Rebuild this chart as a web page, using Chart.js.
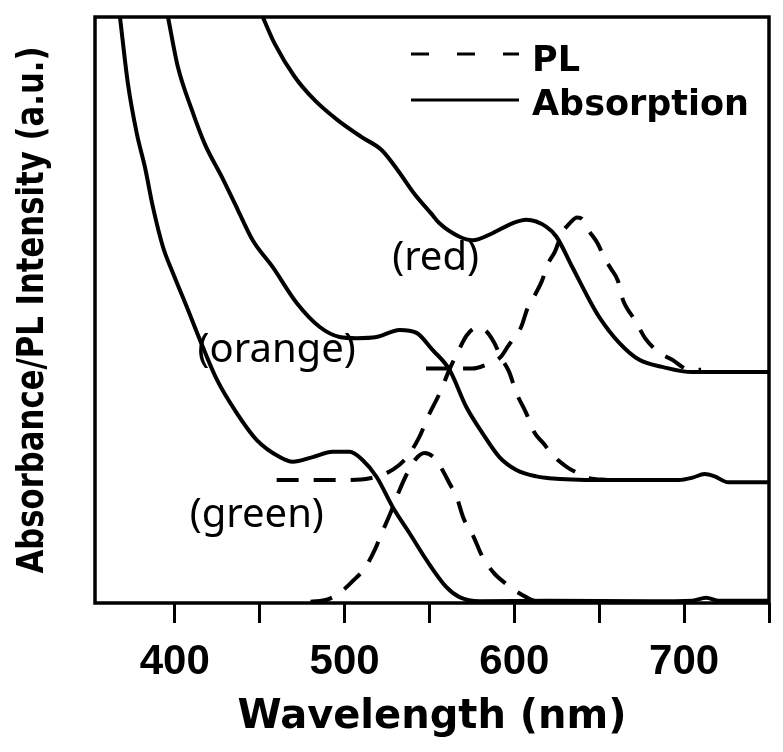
<!DOCTYPE html>
<html>
<head>
<meta charset="utf-8">
<script src="https://cdn.jsdelivr.net/npm/chart.js@4"></script>
<style>
  html, body { margin: 0; padding: 0; background: #fff; }
</style>
</head>
<body>
<canvas id="specChart" width="783" height="752"></canvas>
<script>
// wavelength (nm) / value pairs, y in arbitrary units (0-100)
const greenAbsNm  = [367.7, 372.4, 377.7, 382.4, 387.1, 393, 398.9, 407.1, 414.8, 424.8, 436.5, 448.3, 461.8, 469.5, 481.2, 493, 503, 510.6, 518.9, 528.3, 538.3, 548.3, 560, 567.7, 579.5, 620, 680, 705, 713, 720, 750];
const greenAbsVal = [100, 88.6, 80.0, 74.4, 67.6, 60.8, 56.3, 50.5, 44.9, 38.1, 32.4, 27.8, 24.9, 24.1, 24.9, 25.8, 25.8, 24.4, 21.5, 16.4, 11.9, 7.3, 2.7, 1.0, 0.3, 0.4, 0.3, 0.4, 0.9, 0.4, 0.4];

const orangeAbsNm  = [396, 401.8, 410.1, 417.7, 427.7, 437.1, 445.9, 457.7, 471.8, 485.4, 497.1, 507.1, 518.9, 532.4, 542.4, 551.8, 561.8, 571.8, 581.2, 591.2, 601.2, 613, 620.6, 650, 697, 705, 712, 718, 726, 750];
const orangeAbsVal = [100, 91.5, 84.1, 78.3, 72.7, 67.1, 61.9, 57.3, 51.2, 47.1, 45.4, 45.2, 45.4, 46.6, 46.1, 43.2, 39.8, 33.4, 29.0, 24.9, 22.7, 21.6, 21.3, 21.0, 21.0, 21.4, 22.0, 21.6, 20.6, 20.6];

const redAbsNm  = [451.8, 458.9, 470.6, 482.4, 495.9, 510.1, 521.8, 531.2, 541.2, 551.2, 555.9, 567.7, 575.4, 587.1, 598.9, 607.1, 618.9, 624.8, 634.2, 644.2, 650, 661.8, 673.6, 687.1, 704.8, 750];
const redAbsVal = [100, 95.4, 89.8, 85.8, 82.4, 79.5, 77.3, 73.9, 69.8, 66.4, 64.8, 62.5, 61.9, 63.1, 64.8, 65.4, 64.2, 62.5, 57.3, 51.7, 48.8, 44.4, 41.5, 40.3, 39.4, 39.4];

const greenPlNm  = [480, 490, 497, 505, 512, 518, 522, 527, 532, 537, 542, 547, 552, 557, 562, 566, 570, 576, 581, 588, 595, 601, 607, 613, 625];
const greenPlVal = [0.2, 0.6, 1.7, 3.8, 6.0, 9.2, 12.0, 15.3, 19.0, 22.2, 24.6, 25.6, 25.0, 23.0, 20.3, 18.1, 14.5, 11.3, 8.0, 5.1, 3.3, 2.0, 1.0, 0.3, 0.2];

const orangePlNm  = [460, 480, 500, 515, 525, 532, 537, 544, 549, 556, 562, 567, 572, 578, 583, 588, 592, 597, 601, 607, 612, 617, 621, 626, 631, 637, 644, 655];
const orangePlVal = [21.0, 21.0, 21.0, 21.3, 22.2, 23.5, 25.0, 28.3, 31.7, 35.8, 40.0, 43.0, 45.7, 47.0, 46.5, 44.5, 42.0, 39.4, 36.0, 32.4, 29.0, 27.3, 25.8, 24.3, 23.2, 22.2, 21.3, 21.0];

const redPlNm  = [548, 560, 575, 586, 592, 596, 600, 604, 608, 612, 616, 620, 624, 628, 632, 637, 640, 644, 649, 653, 657, 661, 664, 667, 671, 677, 685, 693, 703, 710];
const redPlVal = [40.0, 40.0, 40.0, 41.0, 42.0, 43.7, 45.4, 47.1, 50.5, 52.5, 54.8, 58.0, 60.0, 63.1, 64.6, 65.8, 65.5, 63.5, 61.4, 58.9, 57.0, 55.0, 51.7, 50.0, 48.3, 45.2, 42.8, 41.5, 39.8, 39.8];

const tickValues = [400, 450, 500, 550, 600, 650, 700, 750];
const tickLabels = [400, 500, 600, 700];

const sampleNames = ['(red)', '(orange)', '(green)'];
const sampleNm    = [553.6, 460, 448.3];
const sampleVal   = [56.8, 41.1, 13.0];

const toPoints = (xs, ys) => xs.map((x, i) => ({ x: x, y: ys[i] }));

function absSet(xs, ys) {
    return { data: toPoints(xs, ys), borderColor: '#000', borderWidth: 4, fill: false };
}
function plSet(xs, ys) {
    return { data: toPoints(xs, ys), borderColor: '#000', borderWidth: 4, borderDash: [22, 15], fill: false };
}

const framePlugin = {
    id: 'frame',
    afterDraw(chart) {
        const { ctx, chartArea: a, scales } = chart;
        ctx.save();
        ctx.strokeStyle = '#000';
        ctx.lineWidth = 3.5;
        ctx.strokeRect(a.left, a.top, a.right - a.left, a.bottom - a.top);

        // sample labels
        ctx.fillStyle = '#000';
        ctx.font = '40px "Noto Sans"';
        ctx.textAlign = 'center';
        ctx.textBaseline = 'alphabetic';
        sampleNames.forEach((t, i) => {
            ctx.fillText(t, scales.x.getPixelForValue(sampleNm[i]), scales.y.getPixelForValue(sampleVal[i]));
        });

        // legend
        ctx.font = 'bold 35px "DejaVu Sans"';
        ctx.textAlign = 'left';
        ctx.lineWidth = 3;
        ctx.setLineDash([18, 28]);
        ctx.beginPath();
        ctx.moveTo(a.right - 358, a.top + 37);
        ctx.lineTo(a.right - 250, a.top + 37);
        ctx.stroke();
        ctx.setLineDash([]);
        ctx.beginPath();
        ctx.moveTo(a.right - 358, a.top + 83);
        ctx.lineTo(a.right - 250, a.top + 83);
        ctx.stroke();
        ctx.fillText('PL', a.right - 237, a.top + 54);
        ctx.fillText('Absorption', a.right - 237, a.top + 98);

        // y axis title
        ctx.translate(33, (a.top + a.bottom) / 2);
        ctx.rotate(-Math.PI / 2);
        ctx.textAlign = 'center';
        ctx.textBaseline = 'middle';
        ctx.font = 'bold 38px "DejaVu Sans"';
        ctx.fillText('Absorbance/PL Intensity (a.u.)', 0, 0, 527);
        ctx.restore();
    }
};

const ctx = document.getElementById('specChart').getContext('2d');
const chart = new Chart(ctx, {
    type: 'line',
    data: {
        datasets: [
            absSet(greenAbsNm, greenAbsVal),
            absSet(orangeAbsNm, orangeAbsVal),
            absSet(redAbsNm, redAbsVal),
            plSet(greenPlNm, greenPlVal),
            plSet(orangePlNm, orangePlVal),
            plSet(redPlNm, redPlVal)
        ]
    },
    options: {
        responsive: false,
        animation: false,
        layout: { padding: { left: 95, right: 13, top: 17, bottom: 0 } },
        elements: {
            point: { radius: 0 },
            line: { cubicInterpolationMode: 'monotone' }
        },
        plugins: { legend: { display: false }, tooltip: { enabled: false } },
        scales: {
            x: {
                type: 'linear',
                min: 353,
                max: 750,
                afterBuildTicks: s => { s.ticks = tickValues.map(v => ({ value: v })); },
                afterFit: s => { s.height = 149; },
                border: { display: false },
                grid: { drawOnChartArea: false, tickLength: 20, color: '#000', lineWidth: 3 },
                ticks: {
                    autoSkip: false,
                    maxRotation: 0,
                    padding: 14,
                    color: '#000',
                    font: { family: 'Liberation Sans', weight: 'bold', size: 42 },
                    callback: v => tickLabels.includes(v) ? String(v) : ''
                },
                title: {
                    display: true,
                    text: 'Wavelength (nm)',
                    color: '#000',
                    font: { family: 'DejaVu Sans', weight: 'bold', size: 40 },
                    padding: { top: 0, bottom: 10 }
                }
            },
            y: { display: false, min: 0, max: 100 }
        }
    },
    plugins: [framePlugin]
});
</script>
</body>
</html>
